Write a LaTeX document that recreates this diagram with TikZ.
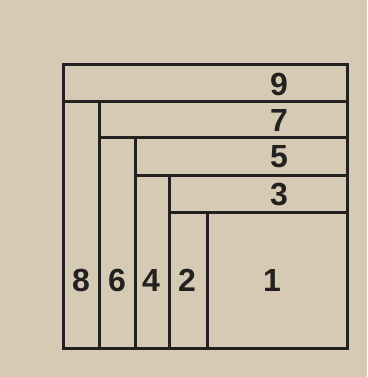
\documentclass[tikz,border=0pt]{standalone}
\usepackage{fontspec}
\usepackage{tikz}
\usepackage{xcolor}
\newfontfamily\digitfont{Liberation Sans}
\definecolor{paper}{RGB}{214,202,180}
\definecolor{ink}{RGB}{35,33,32}

\begin{document}
\begin{tikzpicture}[x=1pt, y=-1pt, line width=3pt, draw=ink]
\tikzset{num/.style={text=ink, font=\digitfont\bfseries\fontsize{32}{32}\selectfont, inner sep=0pt}}
\fill[paper] (0,0) rectangle (367,377);
\useasboundingbox (0,0) rectangle (367,377);
\draw[ink] (63,65) rectangle (347,348);
\draw[ink] (63,102) -- (347,102);
\draw[ink] (99,102) -- (99,348);
\draw[ink] (99,137) -- (347,137);
\draw[ink] (135,137) -- (135,348);
\draw[ink] (135,175) -- (347,175);
\draw[ink] (169,175) -- (169,348);
\draw[ink] (169,212) -- (347,212);
\draw[ink] (207,212) -- (207,348);
\node[num] (n9) at (279,84) {9};
\node[num] (n7) at (279,120) {7};
\node[num] (n5) at (279,157) {5};
\node[num] (n3) at (279,195) {3};
\node[num] (n1) at (272,280) {1};
\node[num] (n8) at (81,280) {8};
\node[num] (n6) at (117,280) {6};
\node[num] (n4) at (151,280) {4};
\node[num] (n2) at (187,280) {2};
\end{tikzpicture}
\end{document}
